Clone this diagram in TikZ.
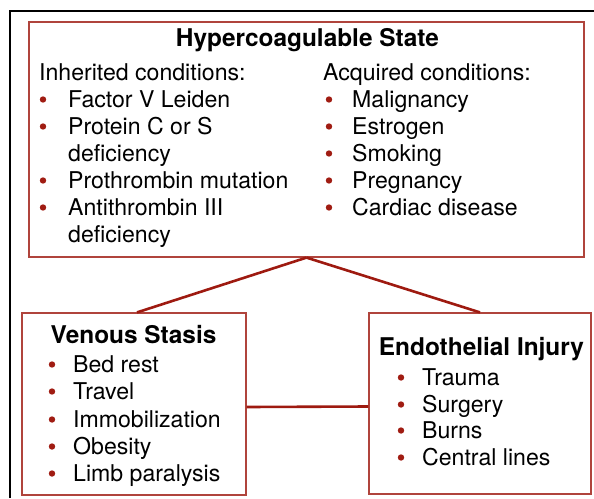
\documentclass[tikz,border=0pt]{standalone}
\usepackage{fontspec}
\setmainfont{TeX Gyre Heros}
\usetikzlibrary{positioning}
\definecolor{boxred}{HTML}{B0443C}
\definecolor{linkred}{HTML}{9E1A10}
\definecolor{dotred}{HTML}{A01C12}
\tikzset{
BOX/.style ={draw=boxred,rectangle,line width=1.2pt,fill=white,inner sep=0pt},
LINK/.style ={draw=linkred,line cap=butt,line width=2.6pt},
FRAME/.style ={draw=black,line join=miter,line width=2.6pt},
TITLE/.style={anchor=base,inner sep=0pt,font=\fontsize{24.4}{28}\selectfont\bfseries},
ITEM/.style={anchor=base west,inner sep=0pt,font=\fontsize{23.1}{27}\selectfont},
}
% name, bullet x, text x, baseline, text
\newcommand{\dotitem}[5]{%
  \fill[dotred] (#2,#4-7.5) circle (3.2pt);
  \node[ITEM] (#1) at (#3,#4) {#5};}

\begin{document}
\begin{tikzpicture} %Virchow triad
[x=1pt,y=-1pt]
	\useasboundingbox (0,0) rectangle (594,498);
	\draw[FRAME] (10,498) -- (10,11) -- (594,11);
	\node[BOX,minimum width=555pt,minimum height=235pt] (hyper) at (306.5,139.5) {};
	\node[BOX,minimum width=224pt,minimum height=182pt] (venous) at (134,404) {};
	\node[BOX,minimum width=222pt,minimum height=181pt] (endo) at (480,403.5) {};
	\draw[LINK] (hyper.south) -- ([xshift=3pt]venous.north);
	\draw[LINK] (hyper.south) -- (endo.north);
	\draw[LINK] ([yshift=-3pt]venous.east) -- ([yshift=-3pt]endo.west);
	% hypercoagulable state
	\node[TITLE] (hypertitle) at (307.5,46) {Hypercoagulable State};
	\node[ITEM] (inherited) at (39,80) {Inherited conditions:};
	\dotitem{factorv}{43}{68}{107}{Factor V Leiden}
	\dotitem{protein}{43}{68}{134}{Protein C or S}
	\node[ITEM] (proteinb) at (68,161) {deficiency};
	\dotitem{prothrombin}{43}{68}{188}{Prothrombin mutation}
	\dotitem{antithrombin}{43}{68}{215}{Antithrombin III}
	\node[ITEM] (antithrombinb) at (68,242) {deficiency};
	\node[ITEM] (acquired) at (323,80) {Acquired conditions:};
	\dotitem{malignancy}{329}{352}{107}{Malignancy}
	\dotitem{estrogen}{329}{352}{134}{Estrogen}
	\dotitem{smoking}{329}{352}{161}{Smoking}
	\dotitem{pregnancy}{329}{352}{188}{Pregnancy}
	\dotitem{cardiac}{329}{352}{215}{Cardiac disease}
	% venous stasis
	\node[TITLE] (venoustitle) at (133.5,343) {Venous Stasis};
	\dotitem{bedrest}{52}{73}{372}{Bed rest}
	\dotitem{travel}{52}{73}{399}{Travel}
	\dotitem{immob}{52}{73}{427}{Immobilization}
	\dotitem{obesity}{52}{73}{454}{Obesity}
	\dotitem{limb}{52}{73}{481}{Limb paralysis}
	% endothelial injury
	\node[TITLE] (endotitle) at (481.5,355) {Endothelial Injury};
	\dotitem{trauma}{401}{422}{385}{Trauma}
	\dotitem{surgery}{401}{422}{412}{Surgery}
	\dotitem{burns}{401}{422}{438}{Burns}
	\dotitem{central}{401}{422}{465}{Central lines}
\end{tikzpicture}
\end{document}
